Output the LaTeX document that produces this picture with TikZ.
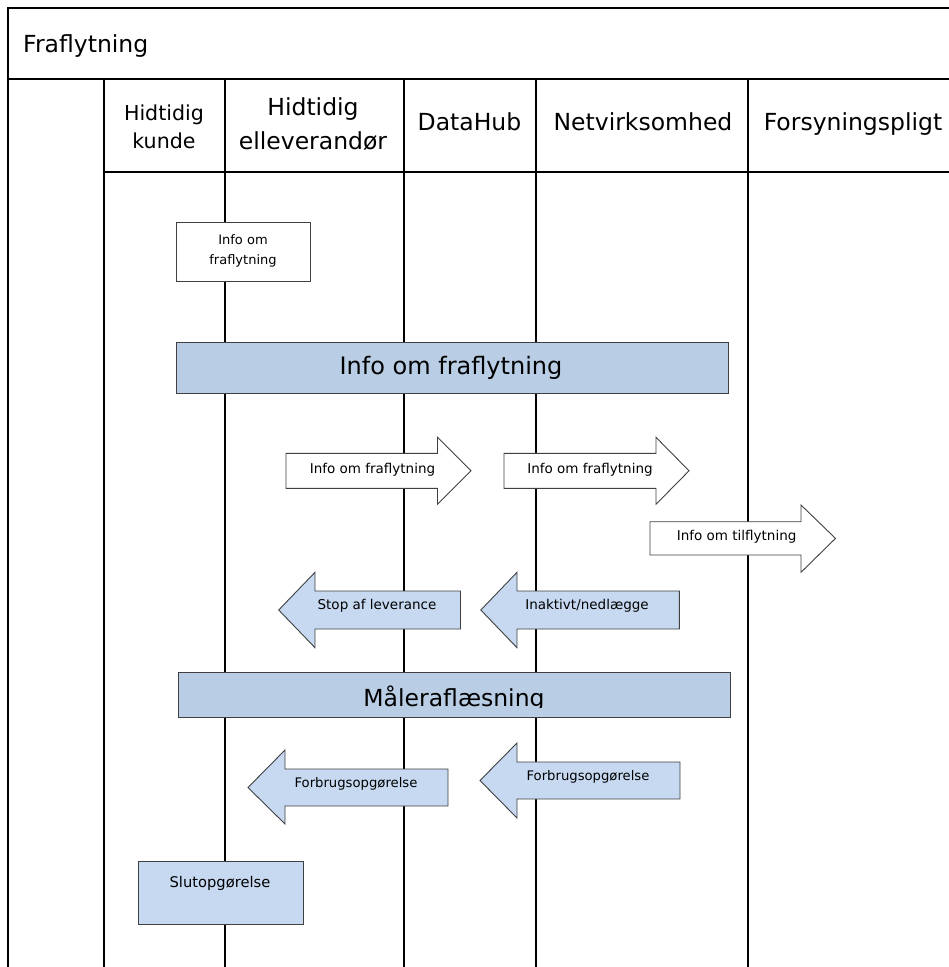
\documentclass[tikz,border=0pt]{standalone}
\usepackage{fontspec}
\setmainfont{DejaVu Sans}
\definecolor{barblue}{HTML}{B9CDE5}
\definecolor{arrblue}{HTML}{C6D9F1}
\definecolor{edgegray}{HTML}{404040}
\begin{document}
\begin{tikzpicture}[x=1pt,y=-1pt,
  frame/.style={line width=2pt, black},
  box/.style={draw=edgegray, line width=0.9pt},
  lbl/.style={inner sep=0pt, font=\fontsize{13.5}{16}\selectfont},
  hdr/.style={inner sep=0pt, anchor=base, font=\fontsize{23.5}{28}\selectfont},
  bigtxt/.style={inner sep=0pt, font=\fontsize{24}{28}\selectfont}]
\useasboundingbox (0,0) rectangle (949,967);
% frame and table
\draw[frame] (949,8) -- (8,8) -- (8,967);
\draw[frame] (8,79) -- (949,79);
\draw[frame] (104,172) -- (949,172);
\draw[frame] (104,79) -- (104,967);
\foreach \x in {225,404,536,748} \draw[frame] (\x,79) -- (\x,967);
% headers
\node[hdr, anchor=base west] (title) at (23,52) {Fraflytning};
\node[hdr, font=\fontsize{20.6}{24}\selectfont] (k1) at (164,120) {Hidtidig};
\node[hdr, font=\fontsize{20.6}{24}\selectfont] (k2) at (164,148) {kunde};
\node[hdr] (e1) at (313,115.5) {Hidtidig};
\node[hdr] (e2) at (313,149) {elleverandør};
\node[hdr] (dh) at (469.5,130) {DataHub};
\node[hdr] (nv) at (643,130) {Netvirksomhed};
\node[hdr] (fp) at (853,130) {Forsyningspligt};
% small box
\draw[box, fill=white] (176.7,222) rectangle (310,281);
\node[lbl, font=\fontsize{13}{20}\selectfont, align=center] (b1) at (243,251) {Info om\\fraflytning};
% bar 1
\draw[box, fill=barblue] (176.7,342) rectangle (728,393);
\node[bigtxt] (bar1) at (451,368) {Info om fraflytning};
% right arrows
\draw[box, fill=white] (286,453.3) -- (437.5,453.3) -- (437.5,437.3) -- (471,470.8) -- (437.5,504.3) -- (437.5,488.3) -- (286,488.3) -- cycle;
\node[lbl] (a1) at (372.5,470) {Info om fraflytning};
\draw[box, fill=white] (504,453.3) -- (656,453.3) -- (656,437.3) -- (689,470.8) -- (656,504.3) -- (656,488.3) -- (504,488.3) -- cycle;
\node[lbl] (a2) at (590,470) {Info om fraflytning};
\draw[box, fill=white] (650,521.7) -- (801,521.7) -- (801,505) -- (835.5,538.4) -- (801,572.3) -- (801,555) -- (650,555) -- cycle;
\node[lbl] (a3) at (736.6,537) {Info om tilflytning};
% left arrows
\draw[box, fill=arrblue] (460.5,591) -- (315,591) -- (315,572.3) -- (278.7,610) -- (315,647.7) -- (315,629) -- (460.5,629) -- cycle;
\node[lbl] (a4) at (377,606) {Stop af leverance};
\draw[box, fill=arrblue] (679.4,591) -- (517,591) -- (517,572.3) -- (480.8,610) -- (517,647.7) -- (517,629) -- (679.4,629) -- cycle;
\node[lbl] (a5) at (587,606) {Inaktivt/nedlægge};
% bar 2
\draw[box, fill=barblue] (178,672) rectangle (730,717);
\begin{scope}
\clip (178,672) rectangle (730,707);
\node[bigtxt, font=\fontsize{23.5}{28}\selectfont, anchor=base] (bar2) at (454,706) {Måleraflæsning};
\end{scope}
% lower arrows
\draw[box, fill=arrblue] (448,769) -- (285,769) -- (285,750) -- (248,787.5) -- (285,824) -- (285,806) -- (448,806) -- cycle;
\node[lbl, font=\fontsize{13.2}{16}\selectfont] (a6) at (356,784) {Forbrugsopgørelse};
\draw[box, fill=arrblue] (680,762) -- (517,762) -- (517,743) -- (480,780.5) -- (517,818) -- (517,799) -- (680,799) -- cycle;
\node[lbl, font=\fontsize{13.2}{16}\selectfont] (a7) at (588,777) {Forbrugsopgørelse};
% final box
\draw[box, fill=arrblue] (138,861) rectangle (303,924);
\node[lbl, font=\fontsize{14.7}{18}\selectfont] (s1) at (220,883) {Slutopgørelse};
\end{tikzpicture}
\end{document}
